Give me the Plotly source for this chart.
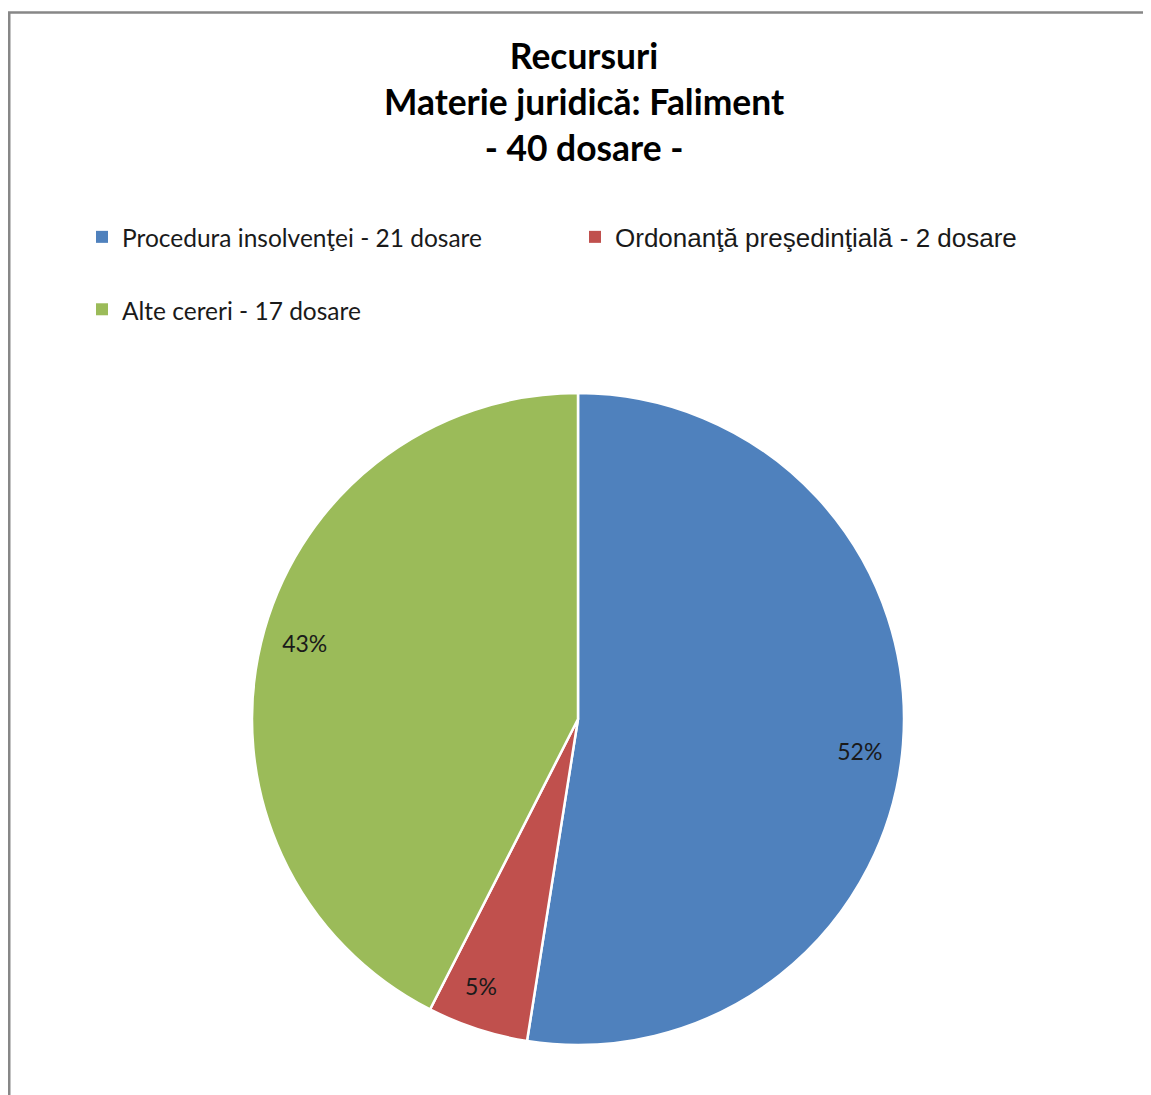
import plotly.graph_objects as go

labels = ["Procedura insolvenţei - 21 dosare",
          "Ordonanţă preşedinţială - 2 dosare",
          "Alte cereri - 17 dosare"]
values = [21, 2, 17]
pct_labels = ["52%", "5%", "43%"]
colors = ["#4F81BD", "#C0504D", "#9BBB59"]
title_lines = ["Recursuri", "Materie juridică: Faliment", "- 40 dosare -"]

W, H = 1151, 1095
# page body has an 8px margin, so figure px = reference px - 8
cx, cy, r = 570, 711, 326
dom_x = [(cx - r) / W, (cx + r) / W]
dom_y = [(H - cy - r) / H, (H - cy + r) / H]

legend_names = [
    "<span style='font-size:24.5px'>" + labels[0] + "</span><br> ",
    "<span style='font-family:Liberation Sans, Arial;font-size:26px'>" + labels[1] + "</span><br> ",
    "<span style='font-size:24.5px'>" + labels[2] + "</span>",
]

fig = go.Figure()
# legend carrier (no white outline so the legend squares are full size)
fig.add_trace(go.Pie(
    labels=legend_names, values=values, sort=False, direction="clockwise",
    marker=dict(colors=colors, line=dict(width=0)),
    textinfo="none", domain=dict(x=dom_x, y=dom_y), showlegend=True,
    hoverinfo="skip",
))
# main pie
fig.add_trace(go.Pie(
    labels=legend_names, values=values, sort=False, direction="clockwise",
    marker=dict(colors=colors, line=dict(color="white", width=2.5)),
    textinfo="none", domain=dict(x=dom_x, y=dom_y), showlegend=False,
    hovertext=labels, hoverinfo="text+value",
))
# transparent ring to place percent labels near the rim
fig.add_trace(go.Pie(
    labels=legend_names, values=values, sort=False, direction="clockwise",
    rotation=2, hole=0.74,
    marker=dict(colors=["rgba(0,0,0,0)"] * 3, line=dict(width=0)),
    text=pct_labels, texttemplate="%{text}", textposition="inside",
    insidetextorientation="horizontal",
    textfont=dict(family="Lato, Carlito, Calibri", size=23, color="#1a1a1a"),
    domain=dict(x=dom_x, y=dom_y), showlegend=False, hoverinfo="skip",
))

fig.update_layout(
    width=W, height=H,
    margin=dict(l=0, r=0, t=0, b=0),
    paper_bgcolor="white", plot_bgcolor="white",
    annotations=[dict(
        text="<b>" + "<br>".join(title_lines) + "</b>",
        xref="paper", yref="paper", x=576 / W, y=1 - 24 / H,
        xanchor="center", yanchor="top", showarrow=False, align="center",
        font=dict(family="Lato, Carlito, Calibri", size=35.4, color="#000000"),
    )],
    legend=dict(
        orientation="h", x=74 / W, xanchor="left", y=1 - 205 / H, yanchor="top",
        entrywidth=448, entrywidthmode="pixels", valign="top",
        font=dict(family="Lato, Carlito, Calibri", size=26.7, color="#1a1a1a"),
        bgcolor="rgba(0,0,0,0)",
    ),
    shapes=[dict(type="rect", xref="paper", yref="paper",
                 x0=1.25 / W, x1=1.02, y0=-0.02, y1=1 - 4.5 / H,
                 line=dict(color="#878787", width=2.5), fillcolor="rgba(0,0,0,0)")],
)

fig.write_html("out.html")
